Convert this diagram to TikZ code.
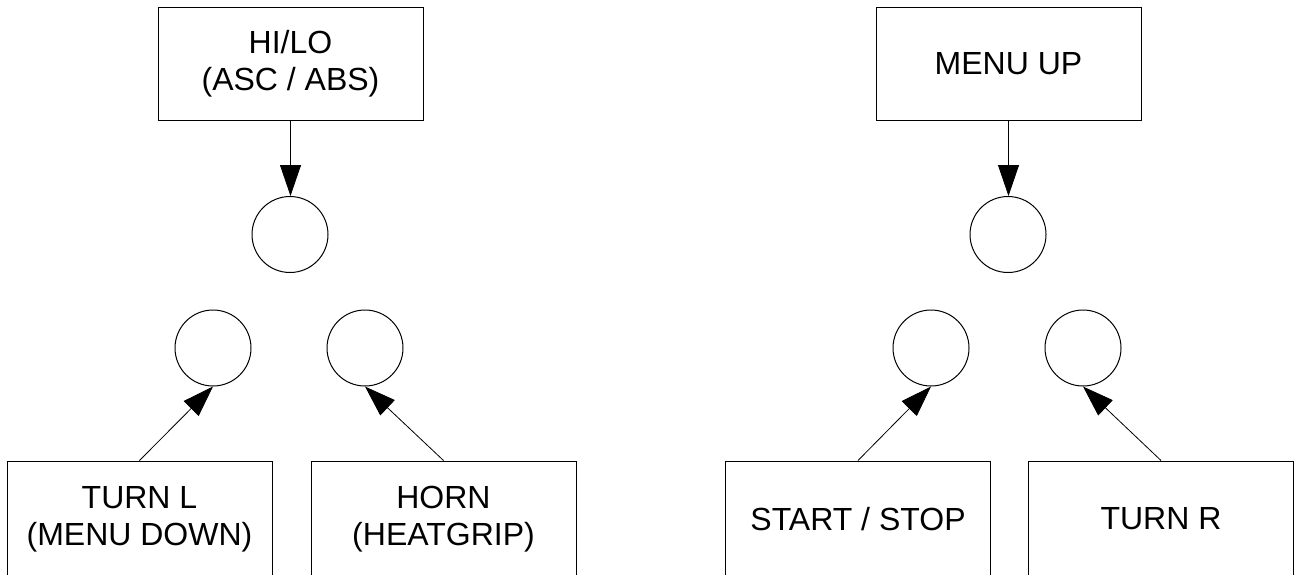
\documentclass[tikz,border=0pt]{standalone}
\usepackage{fontspec}
\setmainfont{Liberation Sans}
\usetikzlibrary{arrows.meta}

\tikzset{
	keybox/.style={draw, line width=1pt, rectangle, minimum width=265pt, minimum height=113pt, align=center, font=\fontsize{32}{37}\selectfont},
	lowbox/.style={keybox, minimum height=116pt},
	pin/.style={draw, line width=1pt, circle, minimum size=76pt, inner sep=0pt},
	push/.style={line width=0.8pt, -{Triangle[length=31pt, width=21pt]}}
}

\begin{document}
\begin{tikzpicture}[x=1pt, y=-1pt]
	\useasboundingbox (0,0) rectangle (1295,574);
	\node[keybox] (hilo) at (290.5,64) {HI/LO\\(ASC / ABS)};
	\node[pin] (ltop) at (290,234.5) {};
	\node[pin] (lleft) at (213,348) {};
	\node[pin] (lright) at (365,348) {};
	\node[lowbox] (turnl) at (139.5,519) {TURN L\\(MENU DOWN)};
	\node[lowbox] (horn) at (443.5,519) {HORN\\(HEATGRIP)};

	\node[keybox] (menuup) at (1008.5,64) {MENU UP};
	\node[pin] (rtop) at (1008,234.5) {};
	\node[pin] (rleft) at (931,348) {};
	\node[pin] (rright) at (1083,348) {};
	\node[lowbox] (startstop) at (858,519) {START / STOP};
	\node[lowbox] (turnr) at (1161,519) {TURN R};

	\draw[push] (hilo.south) -- (hilo.south |- ltop.north);
	\draw[push] (turnl.north) -- (lleft.south);
	\draw[push] (horn.north) -- (lright.south);
	\draw[push] (menuup.south) -- (menuup.south |- rtop.north);
	\draw[push] (startstop.north) -- (rleft.south);
	\draw[push] (turnr.north) -- (rright.south);
\end{tikzpicture}
\end{document}
